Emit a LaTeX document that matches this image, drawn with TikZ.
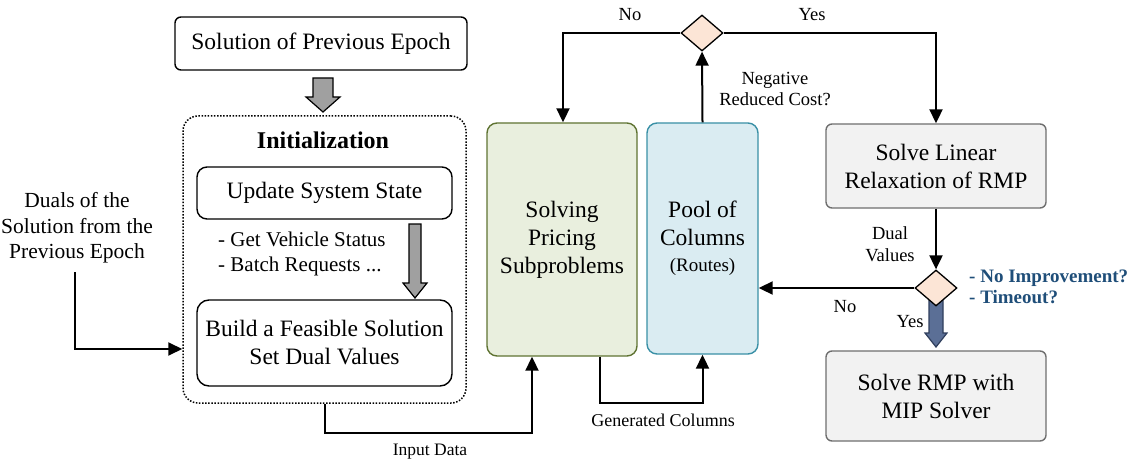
\documentclass[tikz,border=0pt]{standalone}
\usepackage{fontspec}
\setmainfont{Liberation Serif}
\usetikzlibrary{shapes.geometric,arrows.meta,calc}

\definecolor{pricefill}{HTML}{E9EFDE}
\definecolor{pricedraw}{HTML}{5F7332}
\definecolor{poolfill}{HTML}{DAECF2}
\definecolor{pooldraw}{HTML}{3A90A6}
\definecolor{decfill}{HTML}{FCE5D6}
\definecolor{rmpfill}{HTML}{F2F2F2}
\definecolor{rmpdraw}{HTML}{6E6E6E}
\definecolor{graytip}{HTML}{A0A0A0}
\definecolor{yestip}{HTML}{5B6F96}
\definecolor{yesdraw}{HTML}{2F3E5C}
\definecolor{note}{HTML}{1F4E79}

\tikzset{
  big/.style={font=\fontsize{23.5}{28}\selectfont},
  mid/.style={font=\fontsize{21}{25}\selectfont},
  small/.style={font=\fontsize{18.5}{22}\selectfont},
  box/.style={draw=black, line width=1.4pt, align=center, inner sep=0pt, big},
  greybox/.style={box, draw=rmpdraw, fill=rmpfill, rounded corners=6pt},
  decision/.style={diamond, draw=black, line width=1.3pt, fill=decfill,
    inner sep=0pt, minimum width=42pt, minimum height=36pt, aspect=1.17},
  conn/.style={line width=2pt, -{Triangle[length=14pt,width=13pt]}},
  blockgrey/.style={draw=black, line width=1.2pt, fill=graytip},
  blockyes/.style={draw=yesdraw, line width=1.2pt, fill=yestip},
  lbl/.style={inner sep=0pt, align=center},
}

\begin{document}
\begin{tikzpicture}[x=1pt,y=-1pt]
\useasboundingbox (0,0) rectangle (1134,465);

% ---- initialization side ----
\node[box, rounded corners=6pt, minimum width=292pt, minimum height=53pt]
  (prev) at (321,43.5) {Solution of Previous Epoch};
\node[draw=black, line width=1.5pt, dash pattern=on 1.5pt off 1.6pt,
  rounded corners=15pt, minimum width=283pt, minimum height=287pt, inner sep=0pt]
  (init) at (324.5,259.5) {};
\node[lbl, font=\fontsize{24}{28}\selectfont\bfseries] (inittitle) at (323,140) {Initialization};
\node[box, rounded corners=10pt, minimum width=255pt, minimum height=52pt]
  (upd) at (324.5,193) {Update System State};
\node[lbl, mid, align=left, anchor=west] (steps) at (218,254)
  {- Get Vehicle Status\\- Batch Requests ...};
\node[box, rounded corners=12pt, minimum width=255pt, minimum height=86pt]
  (build) at (324.5,343) {Build a Feasible Solution\\Set Dual Values};
\node[lbl, mid, font=\fontsize{21.5}{25.5}\selectfont] (duals) at (77,228)
  {Duals of the\\Solution from the\\Previous Epoch};

% ---- column generation ----
\node[box, draw=pricedraw, fill=pricefill, rounded corners=10pt,
  minimum width=150pt, minimum height=233pt] (price) at (562,239.5)
  {Solving\\Pricing\\Subproblems};
\node[box, draw=pooldraw, fill=poolfill, rounded corners=10pt,
  minimum width=111pt, minimum height=231pt] (pool) at (702.5,238.5)
  {Pool of\\Columns\\[-2pt]{\fontsize{19}{22}\selectfont(Routes)}};
\node[greybox, minimum width=220pt, minimum height=84pt] (lin) at (936,166)
  {Solve Linear\\Relaxation of RMP};
\node[greybox, minimum width=220pt, minimum height=90pt] (mip) at (936,396)
  {Solve RMP with\\MIP Solver};

% block arrow from the second decision into the MIP step
\draw[blockyes] (929,298) -- (943,298) -- (943,333) -- (947,333) -- (936,347)
  -- (925,333) -- (929,333) -- cycle;

\node[decision] (d1) at (702,33) {};
\node[decision] (d2) at (936,288) {};

% ---- block arrows ----
\draw[blockgrey] (313,78) -- (333,78) -- (333,97) -- (340,97) -- (323,112)
  -- (306,97) -- (313,97) -- cycle;
\draw[blockgrey] (409,224) -- (421,224) -- (421,283) -- (427,283) -- (415,298)
  -- (403,283) -- (409,283) -- cycle;

% ---- connectors ----
\coordinate (dstart) at (75,272);
\draw[conn] (dstart) |- (init.west |- 0,349);
\draw[conn] (init.south) -- ++(0,29) coordinate (inbend) -| ($(price.south)+(-30,0)$);
\draw[conn] ($(price.south)+(38,0)$) -- ++(0,46) coordinate (genbend) -| (pool.south);
\draw[conn] (pool.north) -- (d1.south);
\draw[conn] (d1.west) -| ($(price.north)+(1,0)$);
\draw[conn] (d1.east) -| (lin.north);
\draw[conn] (lin.south) -- (d2.north);
\draw[conn] (d2.west) -- (pool.east |- d2.west);

% ---- labels ----
\node[lbl, small] (lno1) at (630,15) {No};
\node[lbl, small] (lyes1) at (812,15) {Yes};
\node[lbl, small, font=\fontsize{18.5}{21.5}\selectfont] (lneg) at (775,89) {Negative\\Reduced Cost?};
\node[lbl, small] (ldual) at (890,244) {Dual\\Values};
\node[lbl, small] (lno2) at (845,307) {No};
\node[lbl, small] (lyes2) at (910,322) {Yes};
\node[lbl, anchor=west, align=left, text=note,
  font=\fontsize{19}{21}\selectfont\bfseries] (lstop) at (969,286.5)
  {- No Improvement?\\- Timeout?};
\node[lbl, small, font=\fontsize{17.5}{21}\selectfont] (linput) at (430,452) {Input Data};
\node[lbl, small, font=\fontsize{18}{21}\selectfont] (lgen) at (663,420) {Generated Columns};
\end{tikzpicture}
\end{document}
